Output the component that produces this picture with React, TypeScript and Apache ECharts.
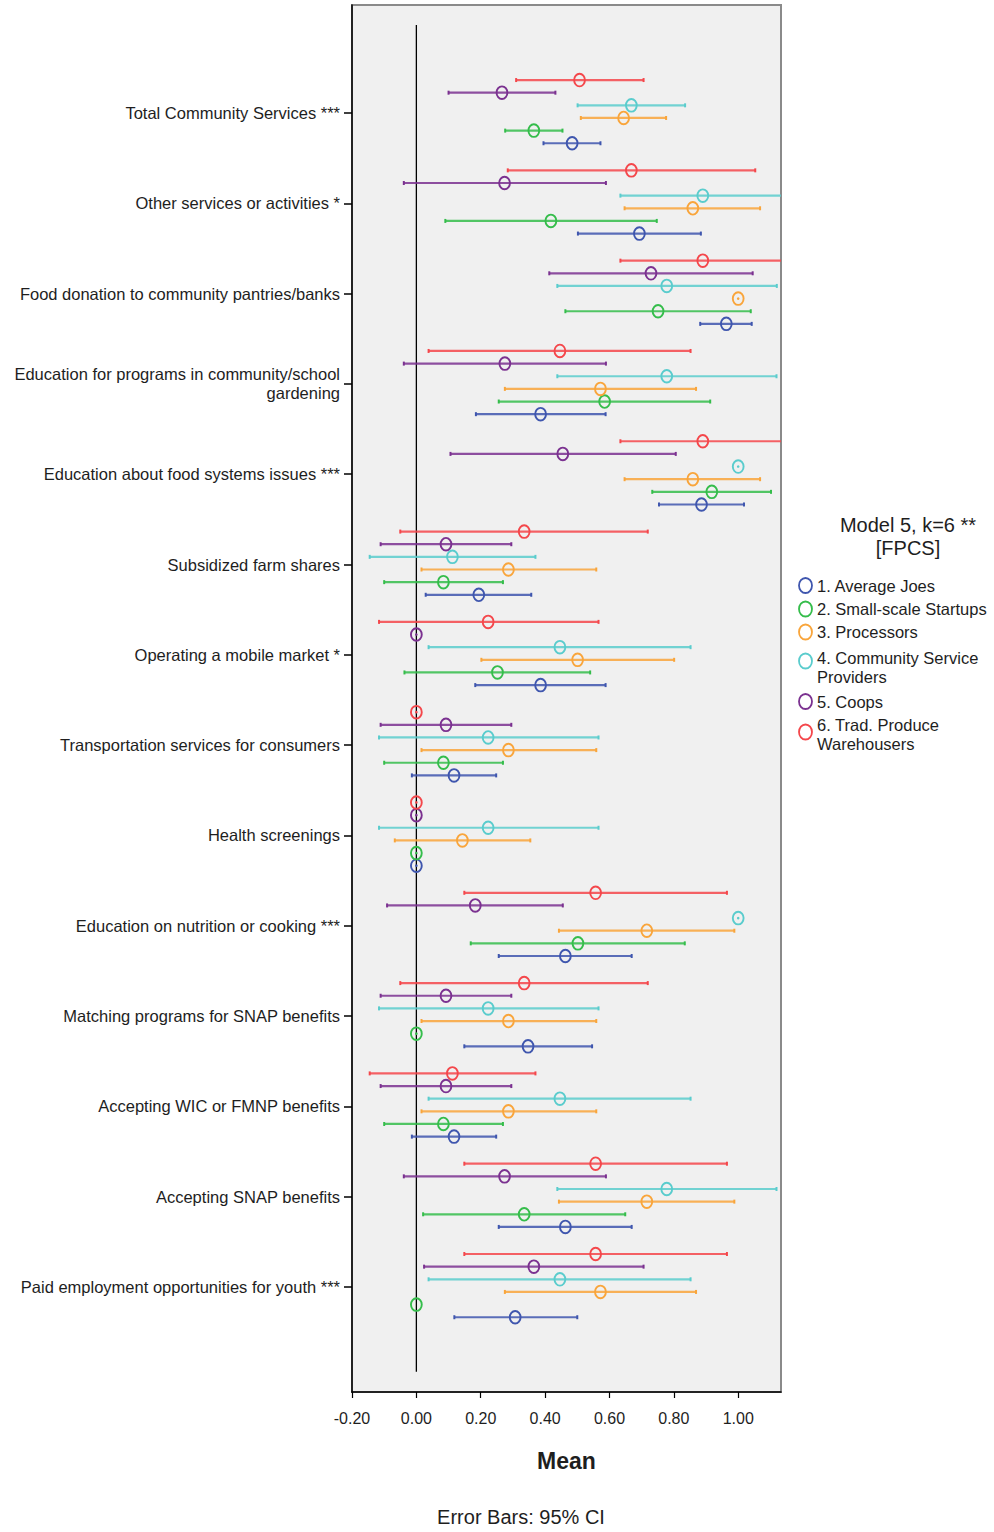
import React, { useEffect, useRef } from "react";
import * as echarts from "echarts";

// ---------- data ----------
const categories = [
  "Total Community Services ***",
  "Other services or activities *",
  "Food donation to community pantries/banks",
  "Education for programs in community/school\ngardening",
  "Education about food systems issues ***",
  "Subsidized farm shares",
  "Operating a mobile market *",
  "Transportation services for consumers",
  "Health screenings",
  "Education on nutrition or cooking ***",
  "Matching programs for SNAP benefits",
  "Accepting WIC or FMNP benefits",
  "Accepting SNAP benefits",
  "Paid employment opportunities for youth ***",
];

const seriesNames = [
  "1. Average Joes",
  "2. Small-scale Startups",
  "3. Processors",
  "4. Community Service\nProviders",
  "5. Coops",
  "6. Trad. Produce\nWarehousers",
];

const legendTitle = "Model 5, k=6 **\n[FPCS]";
const xAxisName = "Mean";
const footnote = "Error Bars: 95% CI";
const xTicks = [-0.2, 0, 0.2, 0.4, 0.6, 0.8, 1.0];
const categoryTicks = [0, 1, 2, 3, 4, 5, 6, 7, 8, 9, 10, 11, 12, 13];
const referenceLineX = 0;
const referenceLineY = [-0.975, 13.94];

// 1. Average Joes
const joesMean = [0.484, 0.693, 0.963, 0.386, 0.886, 0.194, 0.386, 0.117, 0, 0.463, 0.347, 0.117, 0.463, 0.307];
const joesLow = [0.395, 0.502, 0.882, 0.185, 0.754, 0.029, 0.183, -0.014, 0, 0.256, 0.149, -0.014, 0.256, 0.118];
const joesHigh = [0.572, 0.884, 1.042, 0.588, 1.018, 0.357, 0.588, 0.248, 0, 0.669, 0.546, 0.248, 0.669, 0.5];

// 2. Small-scale Startups
const startupsMean = [0.365, 0.418, 0.751, 0.585, 0.918, 0.084, 0.252, 0.084, 0, 0.502, 0, 0.084, 0.335, 0];
const startupsLow = [0.276, 0.09, 0.463, 0.256, 0.733, -0.1, -0.037, -0.1, 0, 0.169, 0, -0.1, 0.021, 0];
const startupsHigh = [0.454, 0.747, 1.039, 0.913, 1.102, 0.269, 0.54, 0.269, 0, 0.834, 0, 0.269, 0.649, 0];

// 3. Processors
const processorsMean = [0.644, 0.859, 1.0, 0.572, 0.859, 0.286, 0.501, 0.286, 0.143, 0.716, 0.286, 0.286, 0.716, 0.572];
const processorsLow = [0.511, 0.647, 1.0, 0.275, 0.647, 0.016, 0.202, 0.016, -0.067, 0.443, 0.016, 0.016, 0.443, 0.275];
const processorsHigh = [0.776, 1.068, 1.0, 0.869, 1.068, 0.559, 0.801, 0.559, 0.354, 0.988, 0.559, 0.559, 0.988, 0.869];

// 4. Community Service Providers
const providersMean = [0.668, 0.89, 0.778, 0.778, 1.0, 0.112, 0.446, 0.223, 0.223, 1.0, 0.223, 0.446, 0.778, 0.446];
const providersLow = [0.501, 0.634, 0.438, 0.438, 1.0, -0.145, 0.038, -0.116, -0.116, 1.0, -0.116, 0.038, 0.438, 0.038];
const providersHigh = [0.835, 1.146, 1.12, 1.119, 1.0, 0.37, 0.852, 0.566, 0.566, 1.0, 0.566, 0.852, 1.119, 0.852];

// 5. Coops
const coopsMean = [0.266, 0.274, 0.729, 0.275, 0.455, 0.092, 0, 0.092, 0, 0.183, 0.092, 0.092, 0.274, 0.365];
const coopsLow = [0.1, -0.039, 0.413, -0.039, 0.106, -0.111, 0, -0.111, 0, -0.091, -0.111, -0.111, -0.039, 0.024];
const coopsHigh = [0.432, 0.589, 1.045, 0.589, 0.806, 0.295, 0, 0.295, 0, 0.455, 0.295, 0.295, 0.589, 0.706];

// 6. Trad. Produce Warehousers
const warehousersMean = [0.507, 0.668, 0.89, 0.446, 0.89, 0.335, 0.223, 0, 0, 0.557, 0.335, 0.112, 0.557, 0.557];
const warehousersLow = [0.31, 0.284, 0.634, 0.038, 0.634, -0.05, -0.116, 0, 0, 0.149, -0.05, -0.145, 0.149, 0.149];
const warehousersHigh = [0.706, 1.053, 1.146, 0.852, 1.146, 0.719, 0.566, 0, 0, 0.965, 0.719, 0.37, 0.965, 0.965];

const groups = [
  { mean: joesMean, low: joesLow, high: joesHigh },
  { mean: startupsMean, low: startupsLow, high: startupsHigh },
  { mean: processorsMean, low: processorsLow, high: processorsHigh },
  { mean: providersMean, low: providersLow, high: providersHigh },
  { mean: coopsMean, low: coopsLow, high: coopsHigh },
  { mean: warehousersMean, low: warehousersLow, high: warehousersHigh },
];

// ---------- styles ----------
const colors = ["#3f56ae", "#35bd4b", "#f9a53b", "#5acccd", "#7b3190", "#f4474b"];
const rowOffsets = [0.335, 0.195, 0.055, -0.085, -0.225, -0.365];
const FONT = '"Liberation Sans", Arial, sans-serif';
const TEXT = "#1e1e1e";

function makeRenderer(offset: number, color: string) {
  return (params: any, api: any) => {
    const mean = api.value(0);
    const lo = api.value(1);
    const hi = api.value(2);
    const y = api.value(3) + offset;
    const pm = api.coord([mean, y]);
    const pl = api.coord([lo, y]);
    const ph = api.coord([hi, y]);
    const children: any[] = [];
    if (hi > lo) {
      children.push({
        type: "line",
        shape: { x1: pl[0], y1: pl[1], x2: ph[0], y2: ph[1] },
        style: { stroke: color, lineWidth: 2.2, opacity: 0.85 },
      });
      children.push({
        type: "line",
        shape: { x1: pl[0], y1: pl[1] - 2, x2: pl[0], y2: pl[1] + 2 },
        style: { stroke: color, lineWidth: 2 },
      });
      children.push({
        type: "line",
        shape: { x1: ph[0], y1: ph[1] - 2, x2: ph[0], y2: ph[1] + 2 },
        style: { stroke: color, lineWidth: 2 },
      });
    } else {
      children.push({
        type: "circle",
        shape: { cx: pm[0], cy: pm[1], r: 1.3 },
        style: { fill: color },
      });
    }
    children.push({
      type: "ellipse",
      shape: { cx: pm[0], cy: pm[1], rx: 5.4, ry: 6.3 },
      style: { stroke: color, fill: "none", lineWidth: 1.9 },
    });
    return { type: "group", children };
  };
}

export default function App() {
  const ref = useRef<HTMLDivElement>(null);

  useEffect(() => {
    if (!ref.current) return;
    const chart = echarts.init(ref.current, undefined, { renderer: "svg" });

    const series: any[] = [
      {
        type: "line",
        name: "reference",
        data: referenceLineY.map((y) => [referenceLineX, y]),
        symbol: "none",
        silent: true,
        z: 1,
        lineStyle: { color: "#000", width: 1.3 },
      },
    ];
    groups.forEach((g, i) => {
      series.push({
        type: "custom",
        name: seriesNames[i],
        clip: true,
        z: 2 + i,
        renderItem: makeRenderer(rowOffsets[i], colors[i]),
        encode: { x: [0, 1, 2], y: 3 },
        data: g.mean.map((m, k) => [m, g.low[k], g.high[k], k]),
      });
    });

    // legend drawn as graphic
    const legendItemsY = [585.5, 609, 632, 658, 701.5, 725];
    const legendIconY = [585.5, 609, 632, 661, 701.5, 732];
    const graphic: any[] = [
      {
        type: "text",
        x: 908,
        y: 513,
        style: {
          text: legendTitle,
          font: `20px ${FONT}`,
          fill: TEXT,
          align: "center",
          textAlign: "center",
          verticalAlign: "top",
          textVerticalAlign: "top",
          lineHeight: 23,
        },
      },
      {
        type: "text",
        x: 521,
        y: 1517,
        style: {
          text: footnote,
          font: `20px ${FONT}`,
          fill: TEXT,
          align: "center",
          textAlign: "center",
          verticalAlign: "middle",
          textVerticalAlign: "middle",
        },
      },
    ];
    seriesNames.forEach((name, i) => {
      graphic.push({
        type: "ellipse",
        shape: { cx: 805.5, cy: legendIconY[i], rx: 6.5, ry: 7.5 },
        style: { stroke: colors[i], fill: "none", lineWidth: 1.8 },
      });
      graphic.push({
        type: "text",
        x: 817,
        y: legendItemsY[i] - 9.5,
        style: {
          text: name,
          font: `16.5px ${FONT}`,
          fill: TEXT,
          align: "left",
          textAlign: "left",
          verticalAlign: "top",
          textVerticalAlign: "top",
          lineHeight: 19,
        },
      });
    });

    chart.setOption({
      animation: false,
      backgroundColor: "#ffffff",
      grid: {
        left: 352,
        right: 213,
        top: 5,
        bottom: 140,
        show: true,
        backgroundColor: "#f0f0f0",
        borderColor: "#8a8a8a",
        borderWidth: 2,
        containLabel: false,
      },
      xAxis: {
        type: "value",
        min: -0.2,
        max: 1.133,
        interval: 0.2,
        name: xAxisName,
        nameLocation: "middle",
        nameGap: 57,
        nameTextStyle: { fontFamily: FONT, fontSize: 23, fontWeight: "bold", color: TEXT },
        axisLine: { show: true, onZero: false, lineStyle: { color: "#000", width: 1.5 } },
        axisTick: { show: true, length: 6, customValues: xTicks, lineStyle: { color: "#000", width: 1.2 } },
        axisLabel: {
          customValues: xTicks,
          margin: 18,
          fontFamily: FONT,
          fontSize: 16,
          color: TEXT,
          formatter: (v: number) => v.toFixed(2),
        },
        splitLine: { show: false },
      },
      yAxis: {
        type: "value",
        inverse: true,
        min: -1.196,
        max: 14.163,
        axisLine: { show: true, onZero: false, lineStyle: { color: "#000", width: 1.5 } },
        axisTick: { show: true, length: 8, customValues: categoryTicks, lineStyle: { color: "#000", width: 1.5 } },
        axisLabel: {
          customValues: categoryTicks,
          margin: 12,
          fontFamily: FONT,
          fontSize: 16.5,
          lineHeight: 19,
          color: TEXT,
          align: "right",
          formatter: (v: number) => categories[Math.round(v)] ?? "",
        },
        splitLine: { show: false },
      },
      graphic,
      series,
    });

    return () => chart.dispose();
  }, []);

  return (
    <div
      ref={ref}
      style={{ position: "fixed", left: 0, top: 0, width: 994, height: 1532, background: "#fff" }}
    />
  );
}
